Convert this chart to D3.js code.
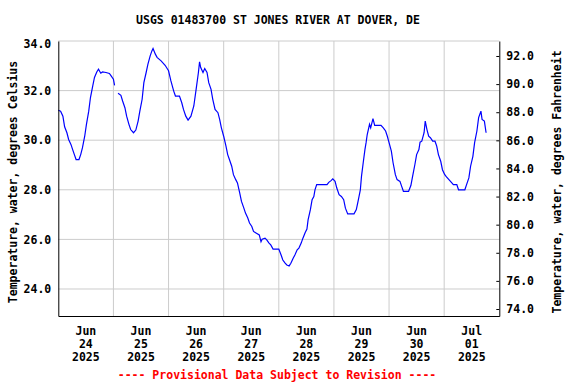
<!DOCTYPE html>
<html>
<head>
<meta charset="utf-8">
<script src="https://cdn.jsdelivr.net/npm/d3@7"></script>
<style>
body { margin: 0; background: #fff; }
text { font-family: "DejaVu Sans Mono", monospace; font-weight: bold; font-size: 11.5px; }
</style>
</head>
<body>
<svg width="576" height="384"></svg>
<script>

// readings (2025), water temperature in deg C; null = gap in record
var times = [
  "06-24 00:00","06-24 01:00","06-24 02:00","06-24 02:45","06-24 03:45","06-24 04:30","06-24 05:30","06-24 06:15",
  "06-24 07:00","06-24 07:45","06-24 09:00","06-24 09:45","06-24 10:30","06-24 11:30","06-24 12:15","06-24 13:15",
  "06-24 14:00","06-24 15:00","06-24 15:45","06-24 16:45","06-24 17:30","06-24 18:30","06-24 19:15","06-24 20:45",
  "06-24 22:15","06-24 23:00","06-25 00:00","06-25 00:30","06-25 01:15","06-25 02:00","06-25 03:15","06-25 04:00",
  "06-25 05:00","06-25 05:45","06-25 06:45","06-25 07:30","06-25 08:45","06-25 09:45","06-25 10:45","06-25 11:30",
  "06-25 12:30","06-25 13:15","06-25 14:15","06-25 15:00","06-25 16:00","06-25 16:45","06-25 17:15","06-25 18:15",
  "06-25 19:00","06-25 20:45","06-25 22:30","06-26 00:00","06-26 01:00","06-26 02:15","06-26 03:00","06-26 04:45",
  "06-26 05:45","06-26 06:30","06-26 07:30","06-26 08:30","06-26 09:45","06-26 11:00","06-26 12:00","06-26 13:00",
  "06-26 13:30","06-26 14:00","06-26 15:00","06-26 15:45","06-26 16:45","06-26 17:30","06-26 18:30","06-26 19:15",
  "06-26 20:15","06-26 21:30","06-26 22:15","06-26 23:00","06-27 00:00","06-27 01:00","06-27 01:45","06-27 02:30",
  "06-27 03:30","06-27 04:15","06-27 05:15","06-27 06:00","06-27 07:00","06-27 07:45","06-27 08:45","06-27 09:30",
  "06-27 10:30","06-27 11:15","06-27 12:15","06-27 13:00","06-27 14:15","06-27 15:30","06-27 16:15","06-27 16:45",
  "06-27 18:00","06-27 18:45","06-27 19:45","06-27 20:30","06-27 21:30","06-28 00:00","06-28 01:00","06-28 01:45",
  "06-28 02:45","06-28 03:30","06-28 04:30","06-28 05:15","06-28 06:15","06-28 07:00","06-28 08:00","06-28 08:45",
  "06-28 09:45","06-28 10:30","06-28 11:30","06-28 12:15","06-28 12:45","06-28 13:45","06-28 14:30","06-28 15:15",
  "06-28 15:45","06-28 16:30","06-28 21:00","06-28 21:45","06-28 22:45","06-28 23:30","06-29 00:30","06-29 01:15",
  "06-29 02:15","06-29 03:15","06-29 04:15","06-29 05:00","06-29 06:00","06-29 08:45","06-29 09:45","06-29 10:30",
  "06-29 11:30","06-29 12:00","06-29 12:45","06-29 13:30","06-29 14:00","06-29 14:30","06-29 15:30","06-29 16:00",
  "06-29 17:00","06-29 17:45","06-29 20:30","06-29 21:30","06-29 22:30","06-29 23:15","06-30 00:00","06-30 01:00",
  "06-30 01:45","06-30 02:45","06-30 03:30","06-30 04:45","06-30 05:30","06-30 06:15","06-30 08:30","06-30 09:30",
  "06-30 10:15","06-30 11:15","06-30 12:00","06-30 13:00","06-30 13:30","06-30 14:15","06-30 15:15","06-30 15:45",
  "06-30 16:30","06-30 17:15","06-30 18:00","06-30 19:00","06-30 20:00","06-30 20:45","06-30 21:30","06-30 22:30",
  "06-30 23:15","07-01 00:15","07-01 01:00","07-01 02:45","07-01 04:00","07-01 05:30","07-01 06:15","07-01 09:00",
  "07-01 09:45","07-01 10:45","07-01 11:30","07-01 12:30","07-01 13:15","07-01 14:15","07-01 15:00","07-01 16:00",
  "07-01 16:30","07-01 17:30","07-01 18:15"
];
var temps = [
  31.21,31.17,30.97,30.54,30.30,30.03,29.83,29.62,
  29.42,29.22,29.22,29.42,29.69,30.16,30.64,31.17,
  31.72,32.19,32.53,32.75,32.86,32.70,32.75,32.73,
  32.69,32.59,32.46,32.21,null,31.89,31.81,31.58,
  31.31,30.97,30.64,30.43,30.30,30.41,30.77,31.17,
  31.65,32.32,32.73,33.06,33.40,33.60,33.70,33.47,
  33.34,33.20,33.02,32.80,32.40,31.98,31.78,31.78,
  31.51,31.24,30.97,30.81,30.97,31.38,32.05,32.73,
  33.16,32.93,32.73,32.89,32.73,32.32,32.05,31.65,
  31.24,31.11,30.84,30.50,30.16,29.76,29.42,29.22,
  28.95,28.61,28.41,28.28,27.87,27.53,27.27,27.06,
  26.86,26.66,26.52,26.32,26.25,26.18,25.91,26.01,
  26.05,25.98,25.85,25.78,25.61,25.61,25.37,25.17,
  25.04,24.97,24.93,25.04,25.24,25.37,25.58,25.65,
  25.85,26.05,26.28,26.42,26.79,27.20,27.60,27.73,
  28.00,28.21,28.21,28.30,28.37,28.44,28.34,28.07,
  27.80,27.73,27.60,27.26,27.03,27.03,27.20,27.53,
  28.00,28.54,29.09,29.62,29.90,30.23,30.64,30.50,
  30.87,30.60,30.60,30.50,30.37,30.16,29.90,29.56,
  29.09,28.61,28.41,28.34,28.14,27.94,27.94,28.17,
  28.54,29.02,29.42,29.62,29.92,29.96,30.30,30.77,
  30.43,30.16,30.10,29.96,29.96,29.76,29.42,29.15,
  28.81,28.61,28.52,28.34,28.21,28.21,28.00,28.00,
  28.21,28.48,28.95,29.35,29.90,30.37,30.91,31.17,
  30.84,30.77,30.30
];

var celsiusTicks = [24, 26, 28, 30, 32, 34];
var fahrenheitTicks = [74, 76, 78, 80, 82, 84, 86, 88, 90, 92];
var dayMonths = ["Jun", "Jun", "Jun", "Jun", "Jun", "Jun", "Jun", "Jul"];
var dayNums = ["24", "25", "26", "27", "28", "29", "30", "01"];
var dayYears = ["2025", "2025", "2025", "2025", "2025", "2025", "2025", "2025"];

var svg = d3.select("svg"),
    plotLeft = 58.3, plotRight = 499.3, plotTop = 41, plotBottom = 316;

var parse = d3.timeParse("%Y-%m-%d %H:%M");
var data = times.map(function(t, i) { return { t: parse("2025-" + t), v: temps[i] }; });

var t0 = parse("2025-06-24 00:00"), t1 = parse("2025-07-02 00:00");
var x = d3.scaleTime().domain([t0, t1]).range([plotLeft, plotRight]);
var yC = d3.scaleLinear().domain([22.911, 34]).range([plotBottom, plotTop]);
var yF = d3.scaleLinear().domain([73.502, 93.067]).range([plotBottom, plotTop]);

var days = d3.timeDay.range(t0, t1);

// grid
var grid = svg.append("g").attr("stroke", "#cccccc").attr("stroke-width", 1);
grid.selectAll(".gx")
    .data(days.slice(1))
    .enter().append("line")
    .attr("x1", function(d) { return x(d); })
    .attr("x2", function(d) { return x(d); })
    .attr("y1", plotTop).attr("y2", plotBottom);
grid.selectAll(".gy")
    .data(celsiusTicks)
    .enter().append("line")
    .attr("x1", plotLeft).attr("x2", plotRight)
    .attr("y1", function(d) { return yC(d); })
    .attr("y2", function(d) { return yC(d); });

// data line
var line = d3.line()
    .defined(function(d) { return d.v !== null; })
    .x(function(d) { return x(d.t); })
    .y(function(d) { return yC(d.v); });

svg.append("path")
    .datum(data)
    .attr("fill", "none")
    .attr("stroke", "#0000ff")
    .attr("stroke-width", 1.2)
    .attr("d", line);

// axes
var leftAxis = svg.append("g")
    .attr("transform", "translate(" + plotLeft + ",0)")
    .call(d3.axisLeft(yC).tickValues(celsiusTicks).tickSize(0).tickPadding(7)
        .tickFormat(d3.format(".1f")));

var rightAxis = svg.append("g")
    .attr("transform", "translate(" + plotRight + ",0)")
    .call(d3.axisRight(yF).tickValues(fahrenheitTicks).tickSizeInner(-3).tickSizeOuter(0).tickPadding(7)
        .tickFormat(d3.format(".1f")));

var bottomAxis = svg.append("g")
    .attr("transform", "translate(0," + plotBottom + ")")
    .call(d3.axisBottom(x).tickValues([]).tickSizeOuter(0));

[leftAxis, rightAxis, bottomAxis].forEach(function(a) {
    a.attr("font-family", null).attr("font-size", null);
    a.select(".domain").attr("stroke", "#000").attr("stroke-width", 1);
    a.selectAll(".tick line").attr("stroke", "#000");
    a.selectAll("text").attr("fill", "#000");
});
rightAxis.selectAll(".tick text").attr("x", 7);
leftAxis.selectAll(".tick").filter(function(d) { return d === 34; })
    .select("text").attr("dy", "0.55em");

// day labels at noon
var noon = days.map(function(d) { return d3.timeHour.offset(d, 12); });
var lab = svg.append("g").attr("text-anchor", "middle");
lab.selectAll(".m").data(noon).enter().append("text")
    .attr("x", function(d) { return x(d); }).attr("y", 335)
    .text(function(d, i) { return dayMonths[i]; });
lab.selectAll(".n").data(noon).enter().append("text")
    .attr("x", function(d) { return x(d); }).attr("y", 347.5)
    .text(function(d, i) { return dayNums[i]; });
lab.selectAll(".yr").data(noon).enter().append("text")
    .attr("x", function(d) { return x(d); }).attr("y", 360.5)
    .text(function(d, i) { return dayYears[i]; });

// titles
svg.append("text")
    .attr("x", 278).attr("y", 24).attr("text-anchor", "middle")
    .text("USGS 01483700 ST JONES RIVER AT DOVER, DE");

svg.append("text")
    .attr("transform", "translate(17,182) rotate(-90)")
    .attr("text-anchor", "middle")
    .text("Temperature, water, degrees Celsius");

svg.append("text")
    .attr("transform", "translate(561,182) rotate(-90)")
    .attr("text-anchor", "middle")
    .text("Temperature, water, degrees Fahrenheit");

svg.append("text")
    .attr("x", 277).attr("y", 379).attr("text-anchor", "middle")
    .attr("fill", "#ff0000")
    .text("---- Provisional Data Subject to Revision ----");

</script>
</body>
</html>
